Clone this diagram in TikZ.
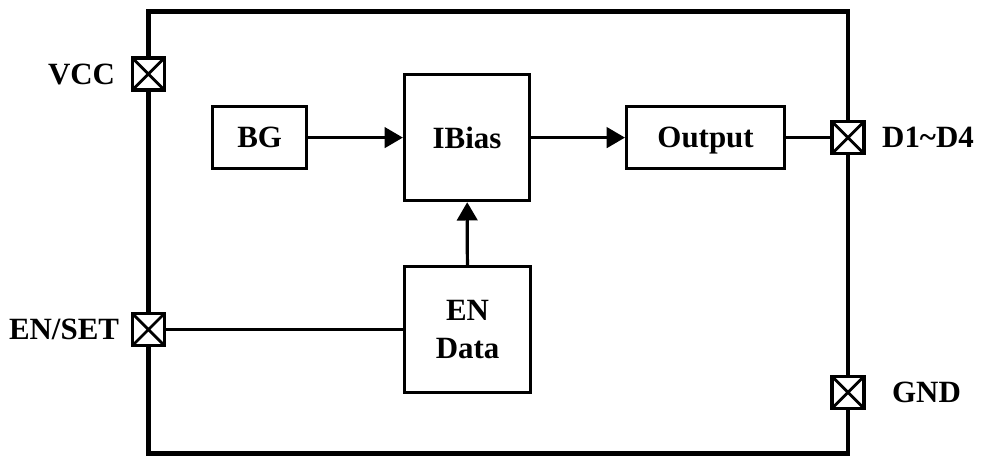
\documentclass[tikz,border=0pt]{standalone}
\usepackage{fontspec}
\setmainfont{Liberation Serif}
\usetikzlibrary{positioning,arrows.meta}
\begin{document}
\begin{tikzpicture}[block/.style={draw,line width=2.3pt,inner sep=0pt,align=center},pin/.style={draw,fill=white,line width=2.5pt,inner sep=0pt,minimum size=0.8cm,path picture={\draw[line width=2pt] (path picture bounding box.north west) -- (path picture bounding box.south east) (path picture bounding box.north east) -- (path picture bounding box.south west);}},>={Triangle[length=13pt,width=14.5pt]},line width=2.3pt,font=\fontsize{22}{27}\selectfont\bfseries,inner sep=0pt]

    \useasboundingbox (0,0) rectangle (24.55,11.45);

    %chip outline
    \node (chip) at (12.455,5.645)[draw,line width=3.4pt,minimum width=17.49cm,minimum height=11.05cm]{};

    %blocks
    \node (BG) at (6.49,8.01)[block,minimum width=2.35cm,minimum height=1.55cm]{BG};
    \node (IB) at (11.675,8.01)[block,minimum width=3.125cm,minimum height=3.15cm]{IBias};
    \node (OUT) at (17.64,8.01)[block,text depth=0pt,minimum width=3.95cm,minimum height=1.55cm]{Output};
    \node (EN) at (11.69,3.21)[block,minimum width=3.15cm,minimum height=3.15cm]{EN\\Data};

    %pins
    \node (Pvcc) at (3.71,9.6)[pin]{};
    \node (Pen) at (3.71,3.21)[pin]{};
    \node (Pout) at (21.2,8.01)[pin]{};
    \node (Pgnd) at (21.2,1.64)[pin]{};

    %pin names
    \node (Lvcc) [left=0.35cm of Pvcc]{VCC};
    \node (Len) [left=0.25cm of Pen]{EN/SET};
    \node (Lout) [right=0.37cm of Pout]{D1\char`~D4};
    \node (Lgnd) [right=0.62cm of Pgnd]{GND};

    %signals
    \draw [->] (BG) to (IB);
    \draw [->] (IB) to (OUT);
    \draw [->] (EN) to (IB);
    \draw (OUT) to (Pout);
    \draw (Pen) to (EN);
  \end{tikzpicture}
\end{document}
